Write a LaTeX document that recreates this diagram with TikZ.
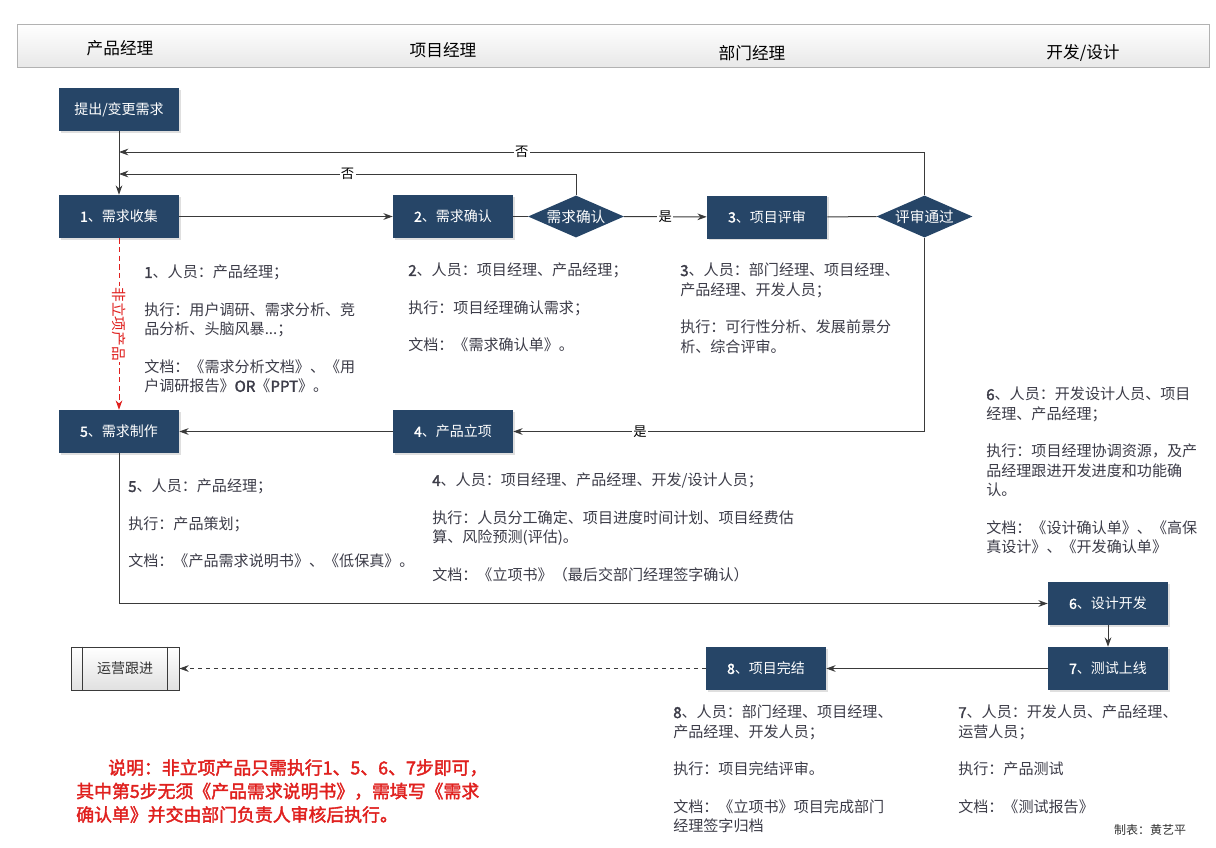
\documentclass[tikz,border=0pt]{standalone}
\usepackage{fontspec}
\setmainfont{Noto Sans CJK SC}[BoldFont={Noto Sans CJK SC},BoldFeatures={FakeBold=2}]
\usetikzlibrary{shapes.geometric,arrows.meta,shadows}
\definecolor{boxblue}{HTML}{264567}
\definecolor{txt}{HTML}{3C3C48}
\definecolor{linec}{HTML}{3A3A3A}
\definecolor{redc}{HTML}{E0201E}
\begin{document}
\begin{tikzpicture}[x=0.75pt,y=-0.75pt,
  blk/.style={rectangle, fill=boxblue, text=white, minimum width=90pt, minimum height=32.25pt,
    inner sep=0pt, font=\fontsize{10.5}{12}\selectfont,
    drop shadow={shadow xshift=1.2pt,shadow yshift=-1.2pt,opacity=0.25}},
  dia/.style={diamond, aspect=2.3, fill=boxblue, text=white, inner sep=0pt,
    minimum width=72pt, minimum height=31.5pt, font=\fontsize{11}{12}\selectfont},
  ops/.style={rectangle, draw=linec, line width=0.6pt, top color=white, bottom color=black!12,
    minimum width=81pt, minimum height=32.25pt, inner sep=0pt, text=black!80,
    font=\fontsize{10.5}{12}\selectfont},
  header/.style={rectangle, draw=black!30, top color=white, bottom color=black!9,
    minimum width=894pt, minimum height=32.25pt, inner sep=0pt},
  htext/.style={font=\fontsize{12.5}{14}\selectfont, text=black, inner sep=0pt},
  txtblk/.style={anchor=north west, align=left, text=txt, inner sep=0pt,
    font=\fontsize{11.3}{14.6}\selectfont},
  plain/.style={draw=linec, line width=0.75pt},
  conn/.style={plain, -{Stealth[length=7pt,width=5pt]}},
  lbl/.style={fill=white, inner sep=1pt, text=black, font=\fontsize{10}{12}\selectfont},
  reddash/.style={draw=redc, line width=0.75pt, dash pattern=on 4pt off 2.5pt,
    -{Stealth[length=7pt,width=5pt]}},
  redlbl/.style={fill=white, inner sep=1pt, text=redc, rotate=-90, font=\fontsize{11}{12}\selectfont},
  note/.style={anchor=north west, align=left, text=redc, inner sep=0pt,
    font=\bfseries\fontsize{13.4}{17.6}\selectfont}
]
\useasboundingbox (0,0) rectangle (1216,847);
\fill[white] (0,0) rectangle (1216,847);

% header
\node[header] (hdr) at (613,45.5) {};
\node[htext] (h1) at (120,48) {产品经理};
\node[htext] (h2) at (443,50) {项目经理};
\node[htext] (h3) at (752,53) {部门经理};
\node[htext] (h4) at (1083,53) {开发/设计};

% boxes
\node[blk] (start) at (119,109.5) {提出/变更需求};
\node[blk] (n1) at (119,216.5) {\textbf{1}、需求收集};
\node[blk] (n2) at (453,216.5) {\textbf{2}、需求确认};
\node[dia] (d1) at (576,216.5) {需求确认};
\node[blk] (n3) at (767,217) {\textbf{3}、项目评审};
\node[dia] (d2) at (924.5,216.5) {评审通过};
\node[blk] (n4) at (453,431.5) {\textbf{4}、产品立项};
\node[blk] (n5) at (119,431.5) {\textbf{5}、需求制作};
\node[blk] (n6) at (1108,603.5) {\textbf{6}、设计开发};
\node[blk] (n7) at (1108,668.5) {\textbf{7}、测试上线};
\node[blk] (n8) at (766,668.5) {\textbf{8}、项目完结};
\node[ops] (ops) at (125,668.5) {运营跟进};
\draw[linec, line width=0.6pt] ([xshift=9pt]ops.north west) -- ([xshift=9pt]ops.south west);
\draw[linec, line width=0.6pt] ([xshift=-9pt]ops.north east) -- ([xshift=-9pt]ops.south east);

\coordinate (j1) at (119,174);
\coordinate (j2) at (119,152);

% connectors
\draw[conn] (start) -- (n1);
\draw[conn] (n1) -- (n2);
\draw[plain] (n2) -- (d1);
\draw[conn] (d1) -- node[lbl] {是} (n3);
\draw[plain] (n3) -- (d2);
\draw[conn] (d1.north) |- node[lbl, pos=0.75] {否} (j1);
\draw[conn] (d2.north) |- node[lbl, pos=0.75] {否} (j2);
\draw[conn] (d2.south) |- node[lbl, pos=0.846] {是} (n4.east);
\draw[conn] (n4) -- (n5);
\draw[reddash] (n1) -- node[redlbl] {非立项产品} (n5);
\draw[conn] (n5.south) |- (n6.west);
\draw[conn] (n6) -- (n7);
\draw[conn] (n7) -- (n8);
\draw[conn, dashed] (n8) -- (ops);

% text blocks
\node[txtblk] (b1) at (144,265) {\textbf{1}、人员：产品经理；\\[13.5pt]
执行：用户调研、需求分析、竞\\品分析、头脑风暴...；\\[13.5pt]
文档：《需求分析文档》、《用\\户调研报告》\textbf{OR}《\textbf{PPT}》。};
\node[txtblk] (b2) at (408,263) {\textbf{2}、人员：项目经理、产品经理；\\[13.5pt]
执行：项目经理确认需求；\\[13.5pt]
文档：《需求确认单》。};
\node[txtblk] (b3) at (680,263) {\textbf{3}、人员：部门经理、项目经理、\\产品经理、开发人员；\\[13.5pt]
执行：可行性分析、发展前景分\\析、综合评审。};
\node[txtblk] (b5) at (128,479) {\textbf{5}、人员：产品经理；\\[13.5pt]
执行：产品策划；\\[13.5pt]
文档：《产品需求说明书》、《低保真》。};
\node[txtblk] (b4) at (432,473) {\textbf{4}、人员：项目经理、产品经理、开发/设计人员；\\[13.5pt]
执行：人员分工确定、项目进度时间计划、项目经费估\\算、风险预测(评估)。\\[13.5pt]
文档：《立项书》（最后交部门经理签字确认）};
\node[txtblk] (b6) at (986,387) {\textbf{6}、人员：开发设计人员、项目\\经理、产品经理；\\[13.5pt]
执行：项目经理协调资源，及产\\品经理跟进开发进度和功能确\\认。\\[13.5pt]
文档：《设计确认单》、《高保\\真设计》、《开发确认单》};
\node[txtblk] (b8) at (673,705) {\textbf{8}、人员：部门经理、项目经理、\\产品经理、开发人员；\\[13.5pt]
执行：项目完结评审。\\[13.5pt]
文档：《立项书》项目完成部门\\经理签字归档};
\node[txtblk] (b7) at (958,705) {\textbf{7}、人员：开发人员、产品经理、\\运营人员；\\[13.5pt]
执行：产品测试\\[13.5pt]
文档：《测试报告》};

\node[note] (nt) at (76,759) {\hspace*{24pt}说明：非立项产品只需执行1、5、6、7步即可，\\
其中第5步无须《产品需求说明书》，需填写《需求\\
确认单》并交由部门负责人审核后执行。};

\node[inner sep=0pt, text=black!80, font=\fontsize{9}{10}\selectfont] (ft) at (1150,830) {制表：黄艺平};
\end{tikzpicture}
\end{document}
